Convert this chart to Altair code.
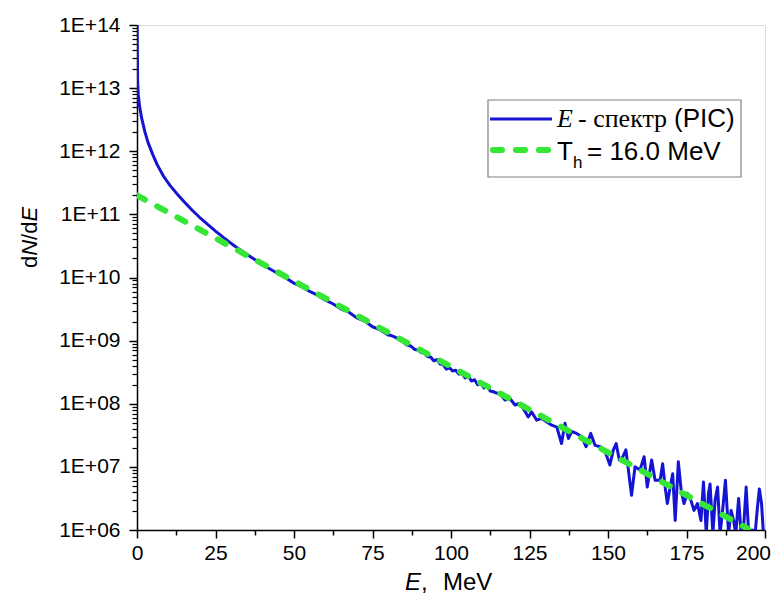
import altair as alt
import pandas as pd

# ---------------- data ----------------
# PIC electron spectrum: energy (MeV) and log10(dN/dE)
energy_mev = [
    0.05, 0.12, 0.2, 0.4, 0.8, 1.5, 2.5, 3.5, 5.0, 6.5, 8.5, 10.5, 12.5, 15, 17.5,
    20, 22.5, 25, 27.5, 30, 32.5, 35, 37.5, 40, 42.5, 45, 47.5, 50, 52.5, 55,
    57.5, 60, 62.5, 65, 67.5, 70, 72.5, 75, 77.5, 80, 81, 82, 83.5, 85, 86, 87,
    88.5, 89.5, 90.5, 91.5, 92.5, 93.5, 94.5, 95.5, 96.5, 97.5, 98.5, 99.5,
    100.5, 101.5, 102.5, 103.5, 104.5, 105.5, 106.5, 107.5, 108.5, 109.5, 110.5,
    111.5, 112.5, 113.5, 114.5,
    115.6, 117.2, 118.8, 120.4, 121.4, 123.0, 124.6, 125.7, 127.3, 128.9, 130.5,
    132.1, 133.7, 135.2, 136.3, 137.4, 138.4, 140.0, 141.6, 143.0, 144.5, 145.9,
    147.5, 149.1, 150.6, 151.7, 152.6, 153.6, 154.7, 155.7, 157.5, 158.6, 160.2,
    161.5, 162.5, 163.9, 165.0,
    166.6, 167.4, 168.2, 168.9, 169.8, 170.6, 171.4, 172.4, 173.3, 174.2, 175.3,
    176.4, 177.4, 178.5, 179.6, 180.4, 181.3, 182.0, 182.5, 183.4, 184.1, 184.9,
    185.7, 186.6, 187.4, 188.4, 189.2, 190.0, 190.7, 191.6, 192.4, 193.2, 194.0,
    194.8, 195.9, 196.9, 197.6, 198.2, 198.9, 199.5,
]
log10_dnde = [
    14.0, 13.55, 13.1, 12.9, 12.72, 12.52, 12.31, 12.14, 11.95, 11.78, 11.60,
    11.46, 11.34, 11.20, 11.07, 10.95, 10.84, 10.735, 10.635, 10.54, 10.45, 10.365,
    10.285, 10.205, 10.13, 10.06, 9.99, 9.91, 9.85, 9.78, 9.72, 9.64, 9.58, 9.50,
    9.45, 9.36, 9.31, 9.22, 9.17, 9.09, 9.08, 9.06, 9.02, 8.97, 8.93, 8.92, 8.86,
    8.85, 8.81, 8.80, 8.75, 8.74, 8.68, 8.70, 8.63, 8.62, 8.55, 8.57, 8.52, 8.53,
    8.47, 8.48, 8.41, 8.44, 8.36, 8.38, 8.30, 8.33, 8.25, 8.29, 8.20, 8.19, 8.17,
    8.16, 8.06, 8.08, 7.98, 8.00, 7.93, 7.79, 7.87, 7.74, 7.77, 7.71, 7.66, 7.63,
    7.37, 7.69, 7.45, 7.56, 7.53, 7.48, 7.32, 7.53, 7.34, 7.32, 7.24, 7.03, 7.27,
    7.37, 7.11, 7.16, 7.27, 6.55, 7.00, 6.95, 7.16, 6.68, 7.11, 6.79,
    6.79, 7.05, 6.68, 6.42, 6.68, 6.89, 6.15, 7.08, 6.63, 6.42, 6.58,
    6.47, 6.31, 6.42, 6.15, 6.76, 5.94, 6.58, 6.73, 5.94, 6.47, 6.68,
    5.94, 6.36, 6.79, 5.94, 6.31, 6.15, 5.94, 6.50, 5.94, 6.05, 6.68,
    5.94, 6.00, 5.97, 6.36, 6.65, 6.42, 5.94,
]

# exponential fit, T_h = 16.0 MeV (end points)
fit_energy = [0.0, 194.5]
fit_dnde = [2.0e11, 1.05e6]

x_ticks = [0, 25, 50, 75, 100, 125, 150, 175, 200]
x_minor = [12.5, 37.5, 62.5, 87.5, 112.5, 137.5, 162.5, 187.5]
y_ticks = [1e6, 1e7, 1e8, 1e9, 1e10, 1e11, 1e12, 1e13, 1e14]
y_minor = [m * d for d in y_ticks[:-1] for m in range(2, 10)]

spec = pd.DataFrame({"E": energy_mev, "dNdE": [10 ** v for v in log10_dnde]})
fit = pd.DataFrame({"E": fit_energy, "dNdE": fit_dnde})

BLUE = "#1414D2"
GREEN = "#35E635"
SANS = "Liberation Sans"
SERIF = "Liberation Serif"

xscale = alt.Scale(domain=[0, 200], nice=False, zero=False)
yscale = alt.Scale(type="log", domain=[1e6, 1e14], nice=False)

major_x = alt.Axis(values=x_ticks, orient="bottom", title=None, grid=False,
                   labelFont=SANS, labelFontSize=21, labelColor="black",
                   tickColor="black", tickSize=8, tickWidth=1.5,
                   domainColor="black", domainWidth=1.5, labelPadding=4,
                   labelFlush=False,
                   labelOffset={"condition": {"test": "datum.value == 200", "value": -12},
                                "value": 0})
major_y = alt.Axis(values=y_ticks, orient="left", title=None, grid=False,
                   labelFont=SANS, labelFontSize=21, labelColor="black",
                   tickColor="black", tickSize=8, tickWidth=1.5,
                   domainColor="black", domainWidth=1.5, labelPadding=9,
                   labelFlush=False,
                   labelExpr="'1E+' + (datum.value < 1e10 ? '0' : '') + round(log(datum.value)/LN10)")
minor_x = alt.Axis(values=x_minor, orient="bottom", title=None, grid=False,
                   labels=False, domain=False, tickColor="black", tickSize=5,
                   tickWidth=1.5)
minor_y = alt.Axis(values=y_minor, orient="left", title=None, grid=False,
                   labels=False, domain=False, tickColor="black", tickSize=5,
                   tickWidth=1.2)

spectrum_line = alt.Chart(spec).mark_line(color=BLUE, strokeWidth=3, clip=True,
                                          strokeJoin="round").encode(
    x=alt.X("E:Q", scale=xscale, axis=major_x),
    y=alt.Y("dNdE:Q", scale=yscale, axis=major_y),
)
fit_line = alt.Chart(fit).mark_line(color=GREEN, strokeWidth=6, clip=True,
                                    strokeDash=[9, 14], strokeCap="round").encode(
    x=alt.X("E:Q", scale=xscale, axis=minor_x),
    y=alt.Y("dNdE:Q", scale=yscale, axis=minor_y),
)

one = alt.Data(values=[{}])


def txt(s, x, y, size, font=SANS, style="normal", angle=0):
    kw = dict(text=s, align="left", baseline="alphabetic", font=font,
              fontSize=size, fontStyle=style, color="black")
    if angle:
        kw["angle"] = angle
    return alt.Chart(one).mark_text(**kw).encode(x=alt.value(x), y=alt.value(y))


# legend
legend_box = alt.Chart(one).mark_rect(fill="white", stroke="#808080",
                                      strokeWidth=1.2).encode(
    x=alt.value(351), x2=alt.value(604), y=alt.value(75), y2=alt.value(152))
leg_blue = alt.Chart(one).mark_rule(color=BLUE, strokeWidth=3).encode(
    x=alt.value(353), x2=alt.value(415), y=alt.value(94))
leg_green = alt.Chart(one).mark_rule(color=GREEN, strokeWidth=6,
                                     strokeDash=[9, 14], strokeCap="round").encode(
    x=alt.value(356), x2=alt.value(415), y=alt.value(125))

layers = [
    spectrum_line, fit_line, legend_box, leg_blue, leg_green,
    txt("E", 420, 102, 26, SERIF, "italic"),
    txt("- спектр", 441, 102, 26, SERIF),
    txt("(PIC)", 537, 102, 26),
    txt("T", 420, 135, 26),
    txt("h", 436, 143, 17),
    txt("= 16.0 MeV", 450, 135, 26),
    # x axis title
    txt("E", 268, 565, 24, SANS, "italic"),
    txt(",", 284, 565, 24),
    txt("MeV", 306, 565, 24),
    # y axis title (rotated)
    txt("d", -100, 243, 22, angle=270),
    txt("N", -100, 230.8, 22, SANS, "italic", angle=270),
    txt("/d", -100, 214.9, 22, angle=270),
    txt("E", -100, 196.6, 22, SANS, "italic", angle=270),
]

chart = alt.layer(*layers).resolve_axis(x="independent", y="independent").properties(
    width=628, height=505,
    autosize=alt.AutoSizeParams(type="none"),
    padding={"left": 129, "top": 17, "right": 9, "bottom": 69},
).configure_view(stroke=None).configure(background="white")

chart.save("out.html", embed_options={"renderer": "svg", "actions": False})
